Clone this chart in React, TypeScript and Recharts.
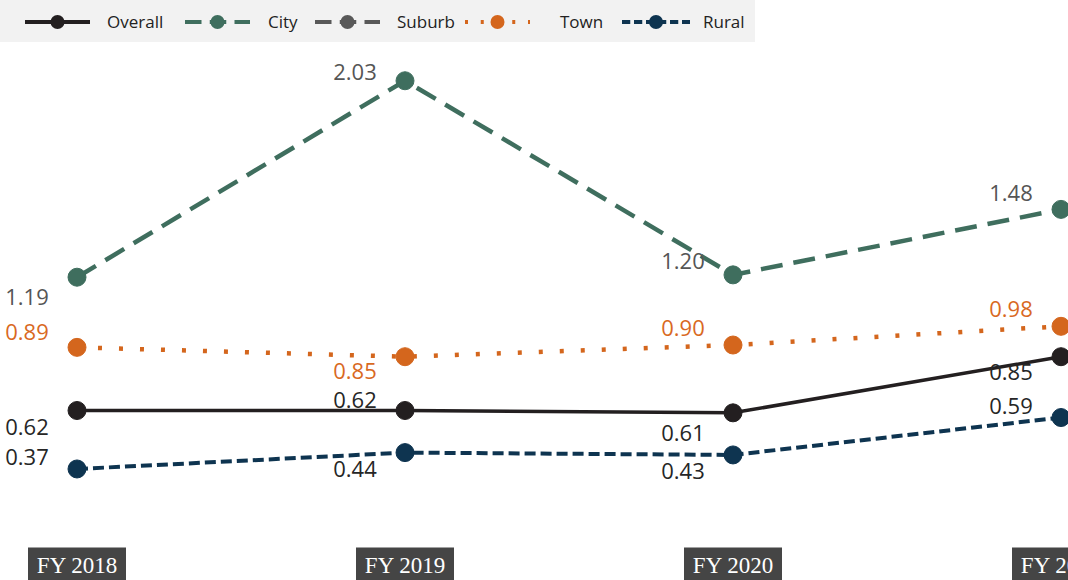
import React from 'react';
import { LineChart, Line, XAxis, YAxis } from 'recharts';

// ---- data ----
const years = ['FY 2018', 'FY 2019', 'FY 2020', 'FY 2021'];
const overall = [0.62, 0.62, 0.61, 0.85];
const city = [1.19, 2.03, 1.2, 1.48];
const suburb: (number | null)[] = [null, null, null, null];
const town = [0.89, 0.85, 0.9, 0.98];
const rural = [0.37, 0.44, 0.43, 0.59];

const data = years.map((y, i) => ({
  year: y,
  overall: overall[i],
  city: city[i],
  suburb: suburb[i],
  town: town[i],
  rural: rural[i],
}));

// ---- style config (label vertical offsets from each point) ----
const series = [
  { key: 'rural', name: 'Rural', color: '#0e3450', label: '#262626', dash: '11 5', width: 4, dy: [-12, 16, 16, -12] },
  { key: 'overall', name: 'Overall', color: '#231f20', label: '#262626', dash: undefined, width: 3.5, dy: [16, -11, 20, 15] },
  { key: 'town', name: 'Town', color: '#d4661d', label: '#d9691f', dash: '4 17', width: 4.5, dy: [-15, 14, -17, -17] },
  { key: 'suburb', name: 'Suburb', color: '#595959', label: '#555555', dash: '22 11', width: 4.5, dy: [-14, -14, -14, -14] },
  { key: 'city', name: 'City', color: '#3f6e5e', label: '#555555', dash: '22 11', width: 4.5, dy: [20, -9, -14, -16] },
];

const legendOrder = ['overall', 'city', 'suburb', 'town', 'rural'];
const legendX = [25, 185, 315, 465, 622];
const legendTextX = [107, 268, 397, 560, 703];

const makeLabel = (color: string, dys: number[]) => (props: any) => {
  const { x, y, value, index } = props;
  if (value === null || value === undefined) return null;
  const cy = y + dys[index];
  return (
    <text
      x={x - 50}
      y={cy + 8}
      textAnchor="middle"
      fill={color}
      fontSize={22}
      fontFamily="'Open Sans', sans-serif"
    >
      {Number(value).toFixed(2)}
    </text>
  );
};

const BoxTick = (props: any) => {
  const { x, y, payload } = props;
  return (
    <g>
      <rect x={x - 49} y={y - 8} width={98} height={40} fill="#454545" />
      <text
        x={x}
        y={y + 17}
        textAnchor="middle"
        fill="#ffffff"
        fontSize={23}
        fontFamily="'Liberation Serif', serif"
      >
        {payload.value}
      </text>
    </g>
  );
};

const LegendSvg = () => (
  <svg width={760} height={44} style={{ position: 'absolute', left: 0, top: 0 }}>
    <rect x={0} y={0} width={755} height={42} fill="#f2f2f2" />
    {legendOrder.map((k, i) => {
      const s = series.find((d) => d.key === k)!;
      const x0 = legendX[i];
      const iconW = k === 'rural' ? 68 : 65;
      return (
        <g key={k}>
          <line
            x1={x0}
            x2={x0 + iconW}
            y1={22}
            y2={22}
            stroke={s.color}
            strokeWidth={4}
            strokeDasharray={s.dash ? s.dash.split(' ').map((v) => Number(v) * 0.75).join(' ') : undefined}
          />
          <circle cx={x0 + iconW / 2} cy={22} r={7} fill={s.color} />
          <text
            x={legendTextX[i]}
            y={28}
            fill="#222"
            fontSize={17}
            fontFamily="'Open Sans', sans-serif"
          >
            {s.name}
          </text>
        </g>
      );
    })}
  </svg>
);

export default function App() {
  return (
    <div
      style={{
        position: 'absolute',
        left: 0,
        top: 0,
        width: 1068,
        height: 580,
        overflow: 'hidden',
        background: '#ffffff',
      }}
    >
      <LineChart
        width={1138}
        height={580}
        data={data}
        margin={{ top: 41, right: 77, bottom: 0, left: 77 }}
      >
        <XAxis
          dataKey="year"
          axisLine={false}
          tickLine={false}
          tickSize={0}
          tickMargin={0}
          height={24.5}
          interval={0}
          tick={<BoxTick />}
        />
        <YAxis hide domain={[0, 2.2]} />
        {series.map((s) => (
          <Line
            key={s.key}
            type="linear"
            dataKey={s.key}
            name={s.name}
            stroke={s.color}
            strokeWidth={s.width}
            strokeDasharray={s.dash}
            dot={{ r: 9, fill: s.color, stroke: s.color, strokeWidth: 1, strokeDasharray: '' }}
            activeDot={false}
            isAnimationActive={false}
            connectNulls={false}
            label={makeLabel(s.label, s.dy)}
          />
        ))}
      </LineChart>
      <LegendSvg />
    </div>
  );
}
